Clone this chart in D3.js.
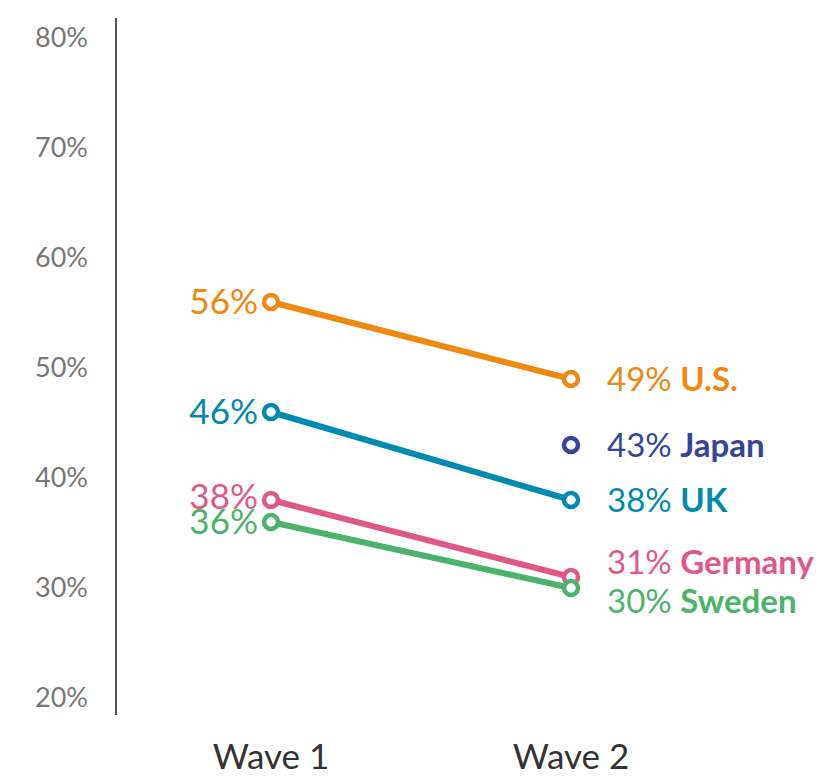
<!DOCTYPE html>
<html>
<head>
<meta charset="utf-8">
<script src="https://cdn.jsdelivr.net/npm/d3@7"></script>
<style>
  body { margin: 0; background: #fff; }
  svg text { font-family: Lato, "Open Sans", sans-serif; }
</style>
</head>
<body>
<div id="chart"></div>
<script>
// data
var waves = ['Wave 1', 'Wave 2']
var countries = ['U.S.', 'Japan', 'UK', 'Germany', 'Sweden']
var wave1 = [56, null, 46, 38, 36]
var wave2 = [49, 43, 38, 31, 30]
var yTicks = [20, 30, 40, 50, 60, 70, 80]
var colors = ['#F0870F', '#36459A', '#008AB0', '#E0588A', '#4BB36B']

var width = 825, height = 779

var svg = d3.select('#chart').append('svg')
    .attr('width', width)
    .attr('height', height)

var x = d3.scalePoint()
    .domain(waves)
    .range([271, 571])

var y = d3.scaleLinear()
    .domain([20, 80])
    .range([698, 38])

// y axis line
svg.append('line')
    .attr('x1', 116).attr('x2', 116)
    .attr('y1', 18).attr('y2', 715)
    .attr('stroke', '#555').attr('stroke-width', 2)

// y tick labels
svg.append('g').selectAll('text')
    .data(yTicks)
    .join('text')
    .attr('x', 88)
    .attr('y', function(d) { return y(d) })
    .attr('dy', '0.35em')
    .attr('text-anchor', 'end')
    .attr('fill', '#777')
    .style('font-size', '27px')
    .text(function(d) { return d + '%' })

// x labels
svg.append('g').selectAll('text')
    .data(waves)
    .join('text')
    .attr('x', function(d) { return x(d) })
    .attr('y', 757)
    .attr('dy', '0.35em')
    .attr('text-anchor', 'middle')
    .attr('fill', '#333')
    .style('font-size', '35px')
    .text(function(d) { return d })

var series = countries.map(function(c, i) {
    return {name: c, color: colors[i], v1: wave1[i], v2: wave2[i]}
})

// lines
svg.append('g').selectAll('line')
    .data(series.filter(function(s) { return s.v1 != null }))
    .join('line')
    .attr('x1', x(waves[0]))
    .attr('x2', x(waves[1]))
    .attr('y1', function(d) { return y(d.v1) })
    .attr('y2', function(d) { return y(d.v2) })
    .attr('stroke', function(d) { return d.color })
    .attr('stroke-width', 6)

// points
var pts = []
series.forEach(function(s) {
    if (s.v1 != null) pts.push({wave: waves[0], v: s.v1, color: s.color})
    pts.push({wave: waves[1], v: s.v2, color: s.color})
})
svg.append('g').selectAll('circle')
    .data(pts)
    .join('circle')
    .attr('cx', function(d) { return x(d.wave) })
    .attr('cy', function(d) { return y(d.v) })
    .attr('r', 7)
    .attr('fill', '#fff')
    .attr('stroke', function(d) { return d.color })
    .attr('stroke-width', 4.5)

// left labels (38 / 36 sit on top of each other, as in the original)
var leftNudge = {'Germany': -3}
svg.append('g').selectAll('text')
    .data(series.filter(function(s) { return s.v1 != null }))
    .join('text')
    .attr('x', x(waves[0]) - 13)
    .attr('y', function(d) { return y(d.v1) + (leftNudge[d.name] || 0) })
    .attr('dy', '0.35em')
    .attr('text-anchor', 'end')
    .attr('fill', function(d) { return d.color })
    .style('font-size', '35px')
    .text(function(d) { return d.v1 + '%' })

// right labels, nudge the two overlapping ones apart
var nudge = {'Germany': -15, 'Sweden': 13}
var right = svg.append('g').selectAll('text')
    .data(series)
    .join('text')
    .attr('x', x(waves[1]) + 36)
    .attr('y', function(d) { return y(d.v2) + (nudge[d.name] || 0) })
    .attr('dy', '0.35em')
    .attr('fill', function(d) { return d.color })
    .style('font-size', '33px')
right.append('tspan').text(function(d) { return d.v2 + '% ' })
right.append('tspan').style('font-weight', 'bold').text(function(d) { return d.name })
</script>
</body>
</html>
